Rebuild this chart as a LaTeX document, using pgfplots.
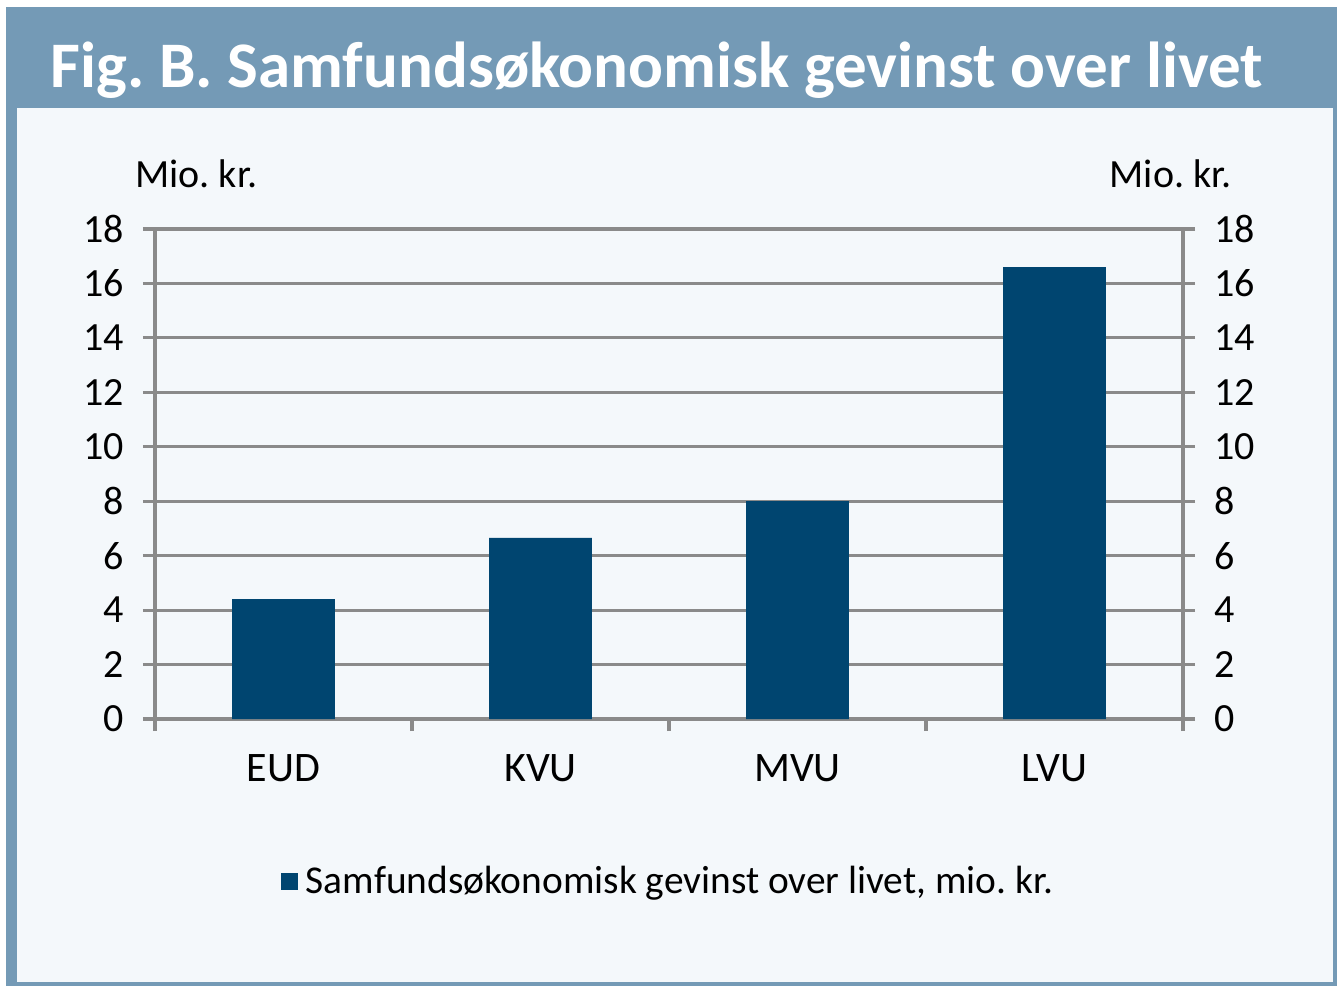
\documentclass[border=0pt]{standalone}
\usepackage{fontspec}
\setmainfont{Carlito}
\usepackage{pgfplots}
\pgfplotsset{compat=1.18}
\definecolor{framebl}{RGB}{116,154,182}
\definecolor{innerbg}{RGB}{244,248,251}
\definecolor{barblue}{RGB}{0,69,112}
\definecolor{gridgray}{RGB}{138,138,138}
\frenchspacing

\begin{document}
\begin{tikzpicture}
% 1 px of the reference = 0.5pt; axis box lower left at (0,0)
\useasboundingbox (-77.5pt,-133.5pt) rectangle (591pt,359.5pt);
\fill[white] (-77.5pt,-133.5pt) rectangle (591pt,359.5pt);
\fill[framebl] (-74.5pt,-133.5pt) rectangle (591pt,356pt);
\fill[innerbg] (-69pt,-131.5pt) rectangle (589pt,305.5pt);
\node[anchor=base west, inner sep=0pt, text=white, font=\fontsize{32.5}{36}\selectfont\bfseries]
  at (-52.5pt,315.5pt) {Fig. B. Samfundsøkonomisk gevinst over livet};
\node[anchor=base west, inner sep=0pt, font=\fontsize{20}{24}\selectfont] at (-10pt,265.5pt) {Mio. kr.};
\node[anchor=base east, inner sep=0pt, font=\fontsize{20}{24}\selectfont] at (538.5pt,265.5pt) {Mio. kr.};

\begin{axis}[
  at={(0pt,0pt)}, anchor=south west,
  scale only axis, width=514pt, height=245pt,
  xmin=-0.5, xmax=3.5, ymin=0, ymax=18,
  ybar, bar width=0.4,
  xtick={0,1,2,3}, xticklabels={EUD,KVU,MVU,LVU},
  minor xtick={-0.5,0.5,1.5,2.5,3.5},
  ytick={0,2,...,18},
  xtick pos=bottom, ytick pos=left,
  tick align=outside,
  major x tick style={draw=none},
  major tick length=6pt, minor tick length=6pt,
  tick style={gridgray, line width=1.6pt},
  axis line style={gridgray, line width=1.6pt},
  ymajorgrids, grid style={gridgray, line width=1.6pt},
  xticklabel style={font=\fontsize{21}{24}\selectfont, yshift=-8pt},
  yticklabel style={font=\fontsize{20}{24}\selectfont, xshift=-6pt},
  /pgf/number format/assume math mode=true,
  legend style={at={(0.5,-0.3306)}, anchor=center, draw=none, fill=none,
    font=\fontsize{19.7}{24}\selectfont, inner sep=0pt},
  legend image code/.code={\fill[#1] (0pt,-4.25pt) rectangle (8.5pt,4.25pt);},
  legend cell align=left,
]
\addplot[fill=barblue, draw=none] coordinates {(0,4.4) (1,6.65) (2,8.0) (3,16.6)};
\addlegendentry{\hspace{2pt}Samfundsøkonomisk gevinst over livet, mio. kr.}
\end{axis}

\begin{axis}[
  at={(0pt,0pt)}, anchor=south west,
  scale only axis, width=514pt, height=245pt,
  xmin=-0.5, xmax=3.5, ymin=0, ymax=18,
  axis x line=none, axis y line*=right,
  ytick={0,2,...,18},
  tick align=outside, major tick length=6pt,
  tick style={gridgray, line width=1.6pt},
  axis line style={gridgray, line width=1.6pt},
  yticklabel style={font=\fontsize{20}{24}\selectfont, xshift=6pt},
  /pgf/number format/assume math mode=true,
]
\end{axis}
\end{tikzpicture}
\end{document}
